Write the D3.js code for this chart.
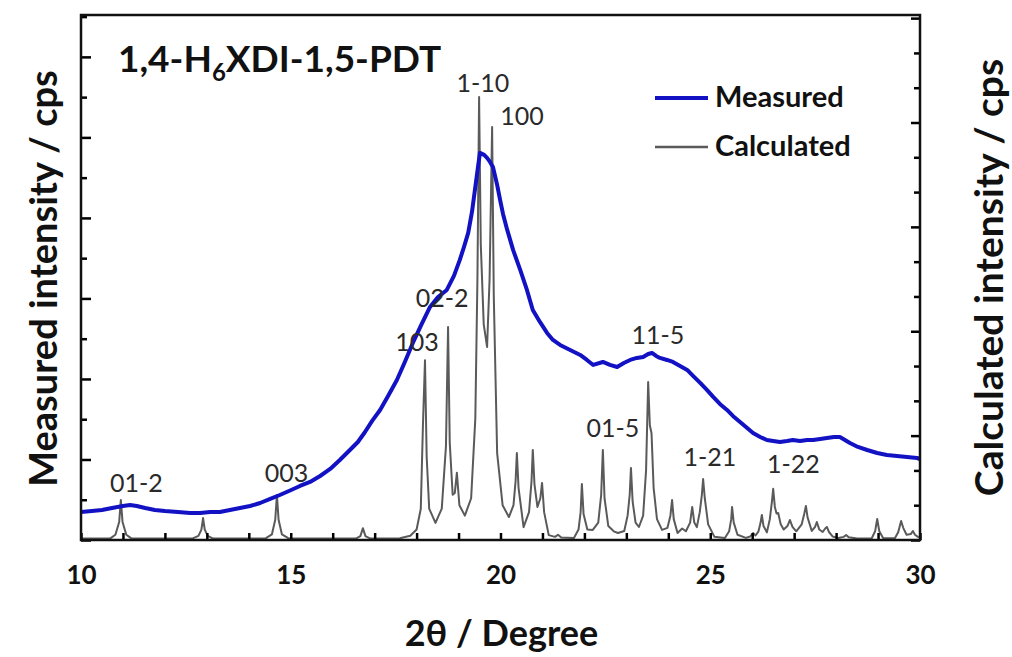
<!DOCTYPE html>
<html><head><meta charset="utf-8">
<script src="https://cdn.jsdelivr.net/npm/d3@7"></script>
<style>
body{margin:0;background:#fff;}
text{font-family:Lato,"Open Sans",sans-serif;}
</style></head>
<body>
<svg id="chart" width="1012" height="657"></svg>
<script>
// ---- data ----
const measuredTheta = [10.00,10.26,10.50,10.74,11.00,11.17,11.33,11.53,11.76,12.00,12.31,12.60,12.84,13.08,13.31,13.55,13.79,14.03,14.27,14.51,14.74,15.01,15.22,15.46,15.70,15.94,16.17,16.41,16.60,16.77,16.94,17.13,17.32,17.53,17.72,17.91,18.10,18.32,18.51,18.72,18.89,19.03,19.13,19.23,19.32,19.39,19.46,19.51,19.61,19.68,19.75,19.82,19.92,19.99,20.06,20.16,20.30,20.47,20.63,20.77,20.94,21.11,21.25,21.42,21.66,21.90,22.06,22.21,22.44,22.61,22.78,22.94,23.09,23.25,23.40,23.52,23.61,23.71,23.80,23.97,24.11,24.28,24.45,24.59,24.76,24.92,25.07,25.23,25.40,25.54,25.71,25.88,26.02,26.19,26.35,26.50,26.66,26.83,26.97,27.14,27.31,27.45,27.62,27.78,27.95,28.09,28.21,28.33,28.52,28.74,28.98,29.21,29.45,29.69,29.93,30.00];
const measuredCps = [696,720,745,795,845,870,845,795,745,720,696,671,671,696,696,745,795,845,919,1019,1118,1242,1342,1441,1590,1764,1988,2236,2435,2683,2957,3230,3578,3975,4422,4894,5317,5789,6037,6211,6559,6957,7280,7627,8149,8696,9242,9615,9565,9491,9391,9267,8820,8447,8099,7702,7205,6708,6211,5714,5416,5143,4969,4845,4720,4596,4472,4348,4422,4348,4298,4398,4472,4522,4547,4621,4646,4571,4522,4472,4422,4323,4224,4075,3901,3727,3553,3379,3230,3081,2932,2783,2658,2559,2484,2460,2435,2460,2484,2460,2484,2484,2509,2534,2559,2559,2484,2410,2311,2236,2161,2112,2087,2062,2037,2012];

const calcTheta = [10.00,10.70,10.82,10.91,10.95,10.99,11.08,11.20,12.65,12.80,12.87,12.91,12.95,13.02,13.15,14.40,14.55,14.63,14.67,14.71,14.79,14.95,16.55,16.66,16.72,16.78,16.90,17.60,17.85,18.00,18.10,18.15,18.20,18.24,18.30,18.45,18.60,18.70,18.75,18.79,18.86,18.91,18.96,19.02,19.15,19.30,19.40,19.45,19.49,19.53,19.60,19.68,19.74,19.80,19.84,19.92,20.05,20.20,20.31,20.36,20.39,20.43,20.55,20.68,20.74,20.77,20.81,20.88,20.95,20.99,21.04,21.15,21.30,21.37,21.45,21.75,21.86,21.91,21.94,21.98,22.07,22.20,22.33,22.40,22.44,22.48,22.57,22.70,22.80,22.95,23.03,23.08,23.11,23.15,23.22,23.30,23.40,23.47,23.52,23.56,23.60,23.65,23.73,23.85,23.98,24.05,24.09,24.13,24.22,24.33,24.42,24.52,24.57,24.62,24.68,24.75,24.80,24.83,24.87,24.95,25.10,25.35,25.45,25.50,25.52,25.56,25.65,25.85,25.95,26.02,26.08,26.15,26.20,26.23,26.27,26.35,26.42,26.47,26.50,26.54,26.58,26.62,26.68,26.75,26.84,26.90,26.96,27.05,27.18,27.24,27.28,27.32,27.42,27.50,27.54,27.60,27.68,27.74,27.78,27.83,27.92,28.05,28.18,28.24,28.30,28.50,28.85,28.93,28.98,29.03,29.12,29.40,29.48,29.55,29.60,29.68,29.78,29.83,29.88,29.95,30.00];
const calcCps = [40,45,150,520,1150,520,150,45,40,120,300,630,300,120,40,45,160,580,1290,580,160,45,40,110,340,110,40,50,120,300,900,3250,5170,2400,900,490,900,2700,6120,2800,1300,1350,1930,1000,700,1200,3500,7500,12730,8500,6200,5550,7500,11870,7000,2500,1000,660,1000,1700,2500,1500,370,800,1700,2590,1600,950,1200,1640,800,140,90,150,70,60,300,800,1610,750,300,290,500,1300,2590,1200,400,250,200,260,700,1300,2070,1100,500,374,700,2000,4540,3300,3070,1500,600,290,350,700,1150,600,200,330,250,500,950,500,370,800,1300,1750,1200,450,90,60,250,600,950,500,150,60,100,200,130,250,500,720,400,220,600,1100,1470,950,760,776,450,300,400,575,380,250,450,750,977,650,260,380,517,300,230,330,374,230,100,60,90,144,80,40,50,250,603,250,60,50,220,546,350,150,170,260,150,90,80];

const peakLabels = ["01-2","003","103","02-2","1-10","100","01-5","11-5","1-21","1-22"];
const peakLabelTheta = [11.32,14.90,18.01,18.61,19.58,20.51,22.68,23.75,24.99,26.98];
const peakLabelCps = [1380,1670,5430,6700,12870,11930,2960,5630,2130,1930];

const xTickValues = d3.range(10, 31, 1);
const xLabelValues = [10,15,20,25,30];
const leftTickValues = d3.range(0, 13001, 1000);
const rightTickValues = d3.range(0, 15001, 1000);
const legendLabels = ["Measured","Calculated"];

// ---- layout ----
const svg = d3.select("#chart");
const L = 81, R = 920, T = 15, B = 540;
const x = d3.scaleLinear().domain([10,30]).range([L,R]);
const yL = d3.scaleLinear().domain([0,13040]).range([B,T]);
const yR = d3.scaleLinear().domain([0,15090]).range([B,T]);

const blue = "#1212c4", grey = "#5a5a5a";

// calculated line
svg.append("path")
  .datum(calcTheta.map((t,i)=>[t,calcCps[i]]))
  .attr("fill","none").attr("stroke",grey).attr("stroke-width",2)
  .attr("stroke-linejoin","round")
  .attr("d", d3.line().x(d=>x(d[0])).y(d=>yR(d[1])));

// measured line
svg.append("path")
  .datum(measuredTheta.map((t,i)=>[t,measuredCps[i]]))
  .attr("fill","none").attr("stroke",blue).attr("stroke-width",4)
  .attr("stroke-linejoin","round")
  .attr("d", d3.line().x(d=>x(d[0])).y(d=>yL(d[1])));

// axes
function styleAxis(g){ g.select(".domain").remove(); g.selectAll("line").attr("stroke","#000").attr("stroke-width",2.5); }
const xa = svg.append("g").attr("transform",`translate(0,${B})`)
  .call(d3.axisBottom(x).tickValues(xTickValues).tickSize(-7).tickPadding(26)
    .tickFormat(d => xLabelValues.includes(d) ? d : ""));
styleAxis(xa);
xa.selectAll("text").attr("font-size",26).attr("font-weight",700).attr("fill","#111").attr("font-family","Lato");

const la = svg.append("g").attr("transform",`translate(${L},0)`)
  .call(d3.axisLeft(yL).tickValues(leftTickValues).tickSize(-6).tickFormat(""));
styleAxis(la);
la.selectAll(".tick line").filter(d => d % 2000 === 0).attr("x2",10);

const ra = svg.append("g").attr("transform",`translate(${R},0)`)
  .call(d3.axisRight(yR).tickValues(rightTickValues).tickSize(-6).tickFormat(""));
styleAxis(ra);
ra.selectAll(".tick line").filter(d => d % 3000 === 0).attr("x2",-9);

// frame
svg.append("rect").attr("x",L).attr("y",T).attr("width",R-L).attr("height",B-T)
  .attr("fill","none").attr("stroke","#111").attr("stroke-width",2.5);

// peak labels
svg.append("g").selectAll("text").data(peakLabels).join("text")
  .attr("x",(d,i)=>x(peakLabelTheta[i])).attr("y",(d,i)=>yR(peakLabelCps[i]))
  .attr("text-anchor","middle").attr("font-size",25).attr("fill","#2a2a2a")
  .text(d=>d);

// title
const title = svg.append("text").attr("x",118).attr("y",72).attr("font-size",37).attr("font-weight",700).attr("fill","#111");
title.append("tspan").text("1,4-H");
title.append("tspan").attr("font-size",24).attr("dy",9).text("6");
title.append("tspan").attr("dy",-9).text("XDI-1,5-PDT");

// legend
const lg = svg.append("g");
[blue, grey].forEach((c,i)=>{
  lg.append("line").attr("x1",655).attr("x2",708).attr("y1",98+i*49).attr("y2",98+i*49)
    .attr("stroke",c).attr("stroke-width", i===0?4:2.5);
  lg.append("text").attr("x",715).attr("y",107+i*49).attr("font-size",29).attr("font-weight",700)
    .attr("fill","#111").text(legendLabels[i]);
});

// axis titles
svg.append("text").attr("x",(L+R)/2 + 1).attr("y",646).attr("text-anchor","middle")
  .attr("font-size",36).attr("font-weight",700).attr("fill","#111").text("2θ / Degree");
svg.append("text").attr("transform",`translate(57,${(T+B)/2 + 1}) rotate(-90)`).attr("text-anchor","middle")
  .attr("font-size",38).attr("font-weight",700).attr("fill","#111").text("Measured intensity / cps");
svg.append("text").attr("transform",`translate(1003,${(T+B)/2}) rotate(-90)`).attr("text-anchor","middle")
  .attr("font-size",39).attr("font-weight",700).attr("fill","#111").text("Calculated intensity / cps");
</script>
</body></html>
